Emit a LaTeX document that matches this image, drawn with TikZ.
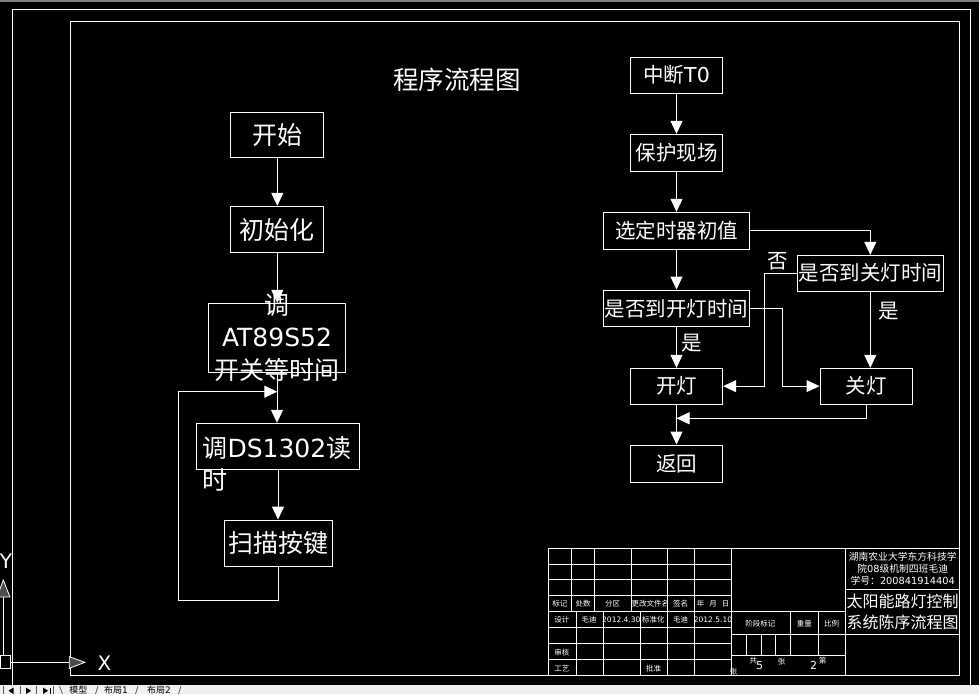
\documentclass[tikz,border=0pt]{standalone}
\usepackage{fontspec}
\setmainfont{Noto Sans CJK SC}
\newfontfamily\lat{DejaVu Sans}
\usetikzlibrary{arrows.meta}
\definecolor{tabbg}{HTML}{F0F0F0}
\begin{document}
\begin{tikzpicture}[x=1pt,y=-1pt,
  bx/.style 2 args={draw=white,line width=1pt,inner sep=0pt,text=white,minimum width=#1,minimum height=#2},
  lf/.style={font=\fontsize{25}{32.5}\selectfont},
  rf/.style={font=\fontsize{20.5}{24}\selectfont},
  wt/.style={text=white,inner sep=0pt},
  tb/.style={text=white,inner sep=0pt,font=\fontsize{7.5}{9}\selectfont},
  tabtxt/.style={text=black,inner sep=0pt,font=\fontsize{9}{10}\selectfont},
  arr/.style={draw=white,line width=1pt,-{Triangle[width=12pt,length=13pt]}},
  ln/.style={draw=white,line width=1pt}]
% background
\fill[black] (0,0) rectangle (979,694);
\useasboundingbox (0,0) rectangle (979,694);
\fill[gray] (0,0) rectangle (979,1.5);
% frames
\draw[ln] (12.3,686) -- (12.3,9.5) -- (970.7,9.5) -- (970.7,686);
\draw[ln] (70.5,21.3) rectangle (959.7,675);
% title
\node[wt,font=\fontsize{25.5}{30}\selectfont] (title) at (457,80) {程序流程图};
% left flowchart
\node[bx={92.7}{45},lf] (start) at (277.3,134.8) {开始};
\node[bx={92.7}{46.4},lf] (init) at (277.3,229.5) {初始化};
\node[bx={137.4}{69}] (at89) at (277,337.8) {};
\node[wt,lf,align=center] (at89t) at (277,337.5) {调\\{\lat AT89S52}\\开关等时间};
\node[bx={162.6}{46}] (ds) at (278,446.3) {};
\node[wt,lf,align=left,anchor=west] (dst) at (202.3,464) {调{\lat DS1302}读\\时};
\node[bx={108.4}{46.7},lf] (scan) at (278.5,543.35) {扫描按键};
\coordinate (l1) at (178.3,600);
\coordinate (l2) at (277.3,391.7);
\draw[arr] (start.south) -- (start.south |- init.north);
\draw[arr] (init.south) -- (init.south |- at89.north);
\draw[arr] (at89.south) -- (at89.south |- ds.north);
\draw[arr] (ds.south) -- (ds.south |- scan.north);
\draw[arr] (scan.south) |- (l1) |- (l2);
% right flowchart
\node[bx={92.4}{36.3},rf] (int) at (676.5,75.15) {中断{\lat T0}};
\node[bx={92.4}{37},rf] (prot) at (676.5,152.8) {保护现场};
\node[bx={146.4}{37},rf] (sel) at (676.5,230.8) {选定时器初值};
\node[bx={146.4}{36.7},rf] (qon) at (676.5,308.35) {是否到开灯时间};
\node[bx={146}{35.7},rf] (qoff) at (870.3,273.15) {是否到关灯时间};
\node[bx={92.4}{35.7},rf] (on) at (676.5,386.15) {开灯};
\node[bx={92.3}{35.7},rf] (off) at (866.15,386.15) {关灯};
\node[bx={92.4}{37.3},rf] (ret) at (676.5,463.65) {返回};
\node[wt,rf] (yes1) at (692,343) {是};
\node[wt,rf] (yes2) at (889,311) {是};
\node[wt,rf] (no1) at (778,261) {否};
\coordinate (n1) at (764,273.15);
\coordinate (n2) at (782.3,308.35);
\coordinate (j) at (676.5,418.3);
\draw[arr] (int.south) -- (prot.north);
\draw[arr] (prot.south) -- (sel.north);
\draw[arr] (sel.south) -- (qon.north);
\draw[arr] (sel.east) -| (qoff.north);
\draw[arr] (qon.south) -- (on.north);
\draw[arr] (qoff.south) -- (qoff.south |- off.north);
\draw[arr] (qoff.west) -- (n1) |- (on.east);
\draw[arr] (qon.east) -- (n2) |- (off.west);
\draw[arr] (off.south) |- (j);
\draw[arr] (on.south) -- (ret.north);
% title block
\begin{scope}[ln]
\draw (548.3,548.3) rectangle (959.7,675);
\foreach \y in {564,579.3,595.7,627.3,643.3,659} \draw (548.3,\y) -- (731.7,\y);
\draw (548.3,611.5) -- (845.7,611.5);
\foreach \x in {571.3,594.7,631.3,667.7,694.7} \draw (\x,548.3) -- (\x,611.5);
\foreach \x in {576.7,603.3,640.7,667.7,694.7} \draw (\x,611.5) -- (\x,675);
\draw (731.7,548.3) -- (731.7,675);
\draw (845.7,548.3) -- (845.7,675);
\draw (731.7,634.3) -- (959.7,634.3);
\draw (731.7,655) -- (845.7,655);
\draw (845.7,589.3) -- (959.7,589.3);
\foreach \x in {790.7,818.5} \draw (\x,611.5) -- (\x,655);
\foreach \x in {746.7,761.7,775.7} \draw (\x,634.3) -- (\x,655);
\end{scope}
\node[tb] (tb1) at (559.8,604) {标记};
\node[tb] (tb2) at (583,604) {处数};
\node[tb] (tb3) at (612.5,604) {分区};
\node[tb,anchor=west] (tb4) at (631.5,604) {更改文件名};
\node[tb] (tb5) at (680.5,604) {签名};
\node[tb] (tb6) at (713,604) {年\hspace{5pt}月\hspace{5pt}日};
\node[tb] (tb7) at (561.8,620) {设计};
\node[tb] (tb8) at (589,620) {毛迪};
\node[tb] (tb9) at (621.3,620) {\lat 2012.4.30};
\node[tb] (tb10) at (653.3,620) {标准化};
\node[tb] (tb11) at (680.5,620) {毛迪};
\node[tb] (tb12) at (713,620) {\lat 2012.5.10};
\node[tb] (tb13) at (760.3,623.5) {阶段标记};
\node[tb] (tb14) at (804.3,623.5) {重量};
\node[tb] (tb15) at (831.5,623.5) {比例};
\node[tb] (tb16) at (561.8,652.3) {审核};
\node[tb] (tb17) at (561.8,668.3) {工艺};
\node[tb] (tb18) at (653.5,668.3) {批准};
\node[tb] (tb19) at (733.7,671.7) {张};
\node[tb] (tb20) at (753.3,661) {共};
\node[tb,font=\lat\fontsize{11}{12}\selectfont] (tb21) at (759.7,665.8) {5};
\node[tb] (tb22) at (781.5,662) {张};
\node[tb,font=\lat\fontsize{11}{12}\selectfont] (tb23) at (813.5,665.8) {2};
\node[tb] (tb24) at (822.5,660.5) {第};
\node[tb,font=\fontsize{9.8}{12}\selectfont,align=center] (tb25) at (902.7,568.8) {湖南农业大学东方科技学\\院{\lat 08}级机制四班毛迪\\学号：{\lat 200841914404}};
\node[tb,font=\fontsize{16}{21}\selectfont,align=center] (tb26) at (902.7,612.3) {太阳能路灯控制\\系统陈序流程图};
% UCS icon
\draw[ln] (0,655) rectangle (10.7,668);
\draw[ln] (10.7,662.3) -- (69.3,662.3);
\draw[white,fill=gray!60!black,line width=0.8pt] (69.3,656.7) -- (85,662.3) -- (69.3,668.3) -- cycle;
\draw[ln] (3.3,597) -- (3.3,655);
\draw[white,fill=gray!60!black,line width=0.8pt] (-3,597) -- (3.3,580) -- (10,597) -- cycle;
\node[wt,font=\lat\fontsize{20}{22}\selectfont] (xlab) at (104.5,663) {X};
\node[wt,font=\lat\fontsize{20}{22}\selectfont] (ylab) at (6,561.5) {Y};
% tab bar
\fill[tabbg] (0,685) rectangle (979,694);
\begin{scope}[draw=gray!70!black,line width=0.8pt]
\foreach \x in {3.3,20,36.7,53.3} \draw (\x,686) -- (\x,694);
\draw (59.5,686) -- (62.5,694);
\draw (98,686) -- (95.5,694);
\draw (138,686) -- (135.5,694);
\draw (181,686) -- (178.5,694);
\end{scope}
\fill[black] (13.5,687.5) -- (8.5,690.8) -- (13.5,694) -- cycle;
\fill[black] (26,687.5) -- (31,690.8) -- (26,694) -- cycle;
\fill[black] (43,687.5) -- (48,690.8) -- (43,694) -- cycle;
\draw[black,line width=0.8pt] (50,687.5) -- (50,694);
\node[tabtxt] (tab1) at (78.3,689.6) {模型};
\node[tabtxt] (tab2) at (116,689.6) {布局{\lat 1}};
\node[tabtxt] (tab3) at (159,689.6) {布局{\lat 2}};
\end{tikzpicture}
\end{document}
